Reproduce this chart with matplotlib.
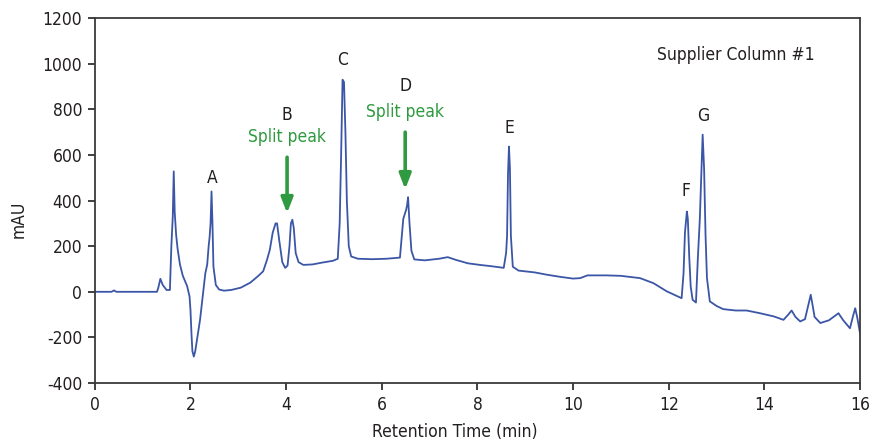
import matplotlib
matplotlib.use("Agg")
import matplotlib.pyplot as plt

# chromatogram trace (time in min, signal in mAU)
time_min = [
    0.0, 0.35, 0.40, 0.45, 1.30, 1.33, 1.37, 1.42, 1.50, 1.57,
    1.60, 1.63, 1.65, 1.67, 1.70, 1.73, 1.78, 1.84, 1.93, 1.98,
    2.00, 2.02, 2.04, 2.07, 2.10, 2.15, 2.20, 2.26, 2.31, 2.35,
    2.38, 2.40, 2.42, 2.44, 2.46, 2.48, 2.53, 2.60, 2.70, 2.85,
    3.05, 3.25, 3.42, 3.52, 3.60, 3.66, 3.72, 3.78, 3.81, 3.86,
    3.92, 3.98, 4.03, 4.07, 4.10, 4.13, 4.16, 4.20, 4.26, 4.36,
    4.55, 4.75, 4.98, 5.08, 5.12, 5.15, 5.18, 5.21, 5.24, 5.27,
    5.31, 5.36, 5.50, 5.80, 6.10, 6.38, 6.42, 6.45, 6.48, 6.51,
    6.53, 6.55, 6.58, 6.62, 6.68, 6.90, 7.20, 7.38, 7.55, 7.80,
    8.05, 8.30, 8.55, 8.60, 8.62, 8.64, 8.66, 8.68, 8.70, 8.74,
    8.86, 9.20, 9.45, 9.75, 10.0, 10.15, 10.30, 10.70, 11.0, 11.40,
    11.68, 11.96, 12.27, 12.31, 12.34, 12.38, 12.40, 12.43, 12.46, 12.50,
    12.57, 12.61, 12.65, 12.69, 12.71, 12.74, 12.77, 12.80, 12.86, 13.00,
    13.14, 13.40, 13.63, 13.91, 14.20, 14.40, 14.50, 14.57, 14.65, 14.75,
    14.85, 14.93, 14.97, 15.01, 15.05, 15.17, 15.35, 15.55, 15.65, 15.79,
    15.85, 15.90, 15.94, 16.0,
]
signal_mau = [
    0, 0, 6, 0, 0, 20, 57, 30, 8, 8,
    200, 330, 528, 350, 250, 190, 120, 70, 25, -20,
    -80, -180, -260, -284, -260, -190, -123, -10, 80, 120,
    200, 240, 300, 440, 300, 111, 30, 10, 5, 8,
    18, 40, 70, 90, 140, 185, 260, 300, 300, 220,
    130, 105, 115, 200, 300, 316, 280, 170, 130, 118,
    120, 128, 136, 145, 300, 600, 930, 920, 700, 400,
    200, 155, 145, 143, 145, 150, 250, 320, 340, 360,
    380, 415, 300, 180, 142, 138, 145, 152, 140, 125,
    118, 112, 105, 170, 245, 520, 637, 540, 245, 110,
    93, 85, 75, 65, 58, 60, 72, 72, 70, 60,
    38, 2, -28, 80, 260, 352, 320, 150, 23, -35,
    -47, 150, 316, 560, 689, 540, 250, 60, -42, -62,
    -76, -82, -82, -94, -108, -123, -100, -82, -110, -130,
    -120, -50, -13, -60, -110, -137, -125, -94, -125, -160,
    -110, -72, -110, -181,
]

# peak letters: (label, time, mAU)
peak_labels = ["A", "B", "C", "D", "E", "F", "G"]
peak_label_t = [2.45, 4.02, 5.19, 6.49, 8.66, 12.36, 12.72]
peak_label_v = [500, 776, 1018, 904, 719, 443, 772]

# split peak callouts: text position and arrow start/end
split_t = [4.02, 6.49]
split_text_v = [680, 790]
split_arrow_from = [590, 700]
split_arrow_to = [345, 450]

x_ticks = list(range(0, 17, 2))
y_ticks = list(range(-400, 1201, 200))

LINE_COLOR = "#3b56a6"
GREEN = "#2f9a3f"
TEXT_COLOR = "#231f20"

plt.rcParams["font.family"] = ["DejaVu Sans"]
plt.rcParams["font.stretch"] = "condensed"
plt.rcParams["axes.unicode_minus"] = False

fig = plt.figure(figsize=(8.7, 4.43), dpi=100)
ax = fig.add_axes([0.109, 0.1354, 0.8795, 0.8236])

ax.plot(time_min, signal_mau, color=LINE_COLOR, linewidth=1.3)

for lab, t, v in zip(peak_labels, peak_label_t, peak_label_v):
    ax.text(t, v, lab, ha="center", va="center", fontsize=12.5, color=TEXT_COLOR)

for t, tv, a0, a1 in zip(split_t, split_text_v, split_arrow_from, split_arrow_to):
    ax.text(t, tv, "Split peak", ha="center", va="center", fontsize=12.5, color=GREEN)
    ax.annotate(
        "",
        xy=(t, a1),
        xytext=(t, a0),
        arrowprops=dict(arrowstyle="-|>,head_length=0.9,head_width=0.35",
                        color=GREEN, lw=2.6, shrinkA=0, shrinkB=0),
    )

ax.text(13.4, 1040, "Supplier Column #1", ha="center", va="center",
        fontsize=12.5, color=TEXT_COLOR)

ax.set_xlim(0, 16)
ax.set_ylim(-400, 1200)
ax.set_xticks(x_ticks)
ax.set_yticks(y_ticks)
ax.tick_params(direction="out", length=5, width=1.2, labelsize=12.5,
               colors=TEXT_COLOR, pad=4)
for sp in ax.spines.values():
    sp.set_linewidth(1.3)
    sp.set_color("#3a3a3a")

ax.set_xlabel("Retention Time (min)", fontsize=12.5, color=TEXT_COLOR)
ax.set_ylabel("mAU", fontsize=12.5, color=TEXT_COLOR)
ax.xaxis.set_label_coords(0.47, -0.11)
ax.yaxis.set_label_coords(-0.088, 0.45)

fig.savefig("out.png", dpi=100)
